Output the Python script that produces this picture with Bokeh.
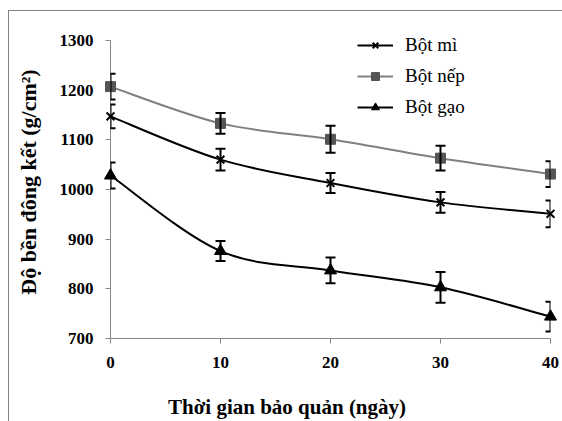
import numpy as np
from bokeh.plotting import figure
from bokeh.models import (ColumnDataSource, Whisker, TeeHead, Legend, LegendItem,
                          Range1d, FixedTicker, Div)
from bokeh.layouts import column
from bokeh.embed import file_html
from bokeh.resources import INLINE

# ---- data ----
days = [0, 10, 20, 30, 40]
bot_mi = [1147, 1060, 1013, 974, 951]
bot_mi_err = [24, 22, 20, 21, 27]
bot_nep = [1207, 1133, 1101, 1063, 1031]
bot_nep_err = [26, 21, 27, 25, 26]
bot_gao = [1028, 876, 837, 803, 744]
bot_gao_err = [26, 20, 26, 31, 30]
series_names = ["Bột mì", "Bột nếp", "Bột gạo"]
y_ticks = [700, 800, 900, 1000, 1100, 1200, 1300]
x_ticks = [0, 10, 20, 30, 40]
x_title = "Thời gian bảo quản (ngày)"
y_title = "Độ bền đông kết (g/cm²)"

FONT = "Liberation Serif"

p = figure(width=553, height=372, output_backend="svg", toolbar_location=None,
           x_range=Range1d(0, 40), y_range=Range1d(700, 1330),
           min_border_left=101, min_border_right=12, min_border_top=14,
           min_border_bottom=45)
p.margin = 0
p.outline_line_color = None
p.grid.visible = False
p.background_fill_color = None
p.border_fill_color = None


def smooth(xs, ys):
    """Catmull-Rom style Bezier segments (Excel-like smoothing)."""
    x = np.asarray(xs, float)
    y = np.asarray(ys, float)
    n = len(x)
    xp = np.concatenate([[x[0]], x, [x[-1]]])
    yp = np.concatenate([[y[0]], y, [y[-1]]])
    d = {"x0": [], "y0": [], "x1": [], "y1": [], "cx0": [], "cy0": [], "cx1": [], "cy1": []}
    for i in range(n - 1):
        j = i + 1
        d["x0"].append(x[i]); d["y0"].append(y[i])
        d["x1"].append(x[i + 1]); d["y1"].append(y[i + 1])
        d["cx0"].append(x[i] + (xp[j + 1] - xp[j - 1]) / 6)
        d["cy0"].append(y[i] + (yp[j + 1] - yp[j - 1]) / 6)
        d["cx1"].append(x[i + 1] - (xp[j + 2] - xp[j]) / 6)
        d["cy1"].append(y[i + 1] - (yp[j + 2] - yp[j]) / 6)
    return ColumnDataSource(d)


styles = [
    (bot_mi, bot_mi_err, "black", "x", "black", 11),
    (bot_nep, bot_nep_err, "#808080", "square", "#555555", 10),
    (bot_gao, bot_gao_err, "black", "triangle", "black", 12),
]

items = []
for name, (vals, errs, lc, mk, mc, ms) in zip(series_names, styles):
    src = ColumnDataSource(dict(x=days, y=vals,
                                lo=[v - e for v, e in zip(vals, errs)],
                                hi=[v + e for v, e in zip(vals, errs)]))
    br = p.bezier(x0="x0", y0="y0", x1="x1", y1="y1", cx0="cx0", cy0="cy0",
                  cx1="cx1", cy1="cy1", source=smooth(days, vals),
                  line_color=lc, line_width=2, level="annotation")
    w = Whisker(base="x", lower="lo", upper="hi", source=src, dimension="height",
                line_color="black", line_width=2, level="annotation",
                upper_head=TeeHead(size=10, line_color="black", line_width=2),
                lower_head=TeeHead(size=10, line_color="black", line_width=2))
    p.add_layout(w)
    sr = p.scatter("x", "y", source=src, marker=mk, size=ms, fill_color=mc,
                   line_color=mc, line_width=2 if mk == "x" else 1, level="annotation")
    items.append(LegendItem(label=name, renderers=[br, sr]))

legend = Legend(items=items, location=(247, 220), padding=0, margin=0,
                border_line_color=None, background_fill_alpha=0,
                glyph_width=36, glyph_height=20, label_height=20, spacing=9,
                label_standoff=12, label_text_font=FONT, label_text_font_size="19px",
                label_text_color="black")
p.add_layout(legend, "center")

for ax in (p.xaxis, p.yaxis):
    ax.axis_line_color = "#868686"
    ax.major_tick_line_color = "#868686"
    ax.major_tick_out = 5
    ax.major_tick_in = 0
    ax.minor_tick_line_color = None
    ax.major_label_text_font = FONT
    ax.major_label_text_font_style = "bold"
    ax.major_label_text_font_size = "17px"
    ax.major_label_text_color = "black"

p.xaxis.ticker = FixedTicker(ticks=x_ticks)
p.yaxis.ticker = FixedTicker(ticks=y_ticks)
p.yaxis.bounds = (700, 1300)
p.xaxis.major_label_standoff = 13
p.yaxis.major_label_standoff = 12

p.yaxis.axis_label = y_title
p.yaxis.axis_label_text_font = FONT
p.yaxis.axis_label_text_font_style = "bold"
p.yaxis.axis_label_text_font_size = "22px"
p.yaxis.axis_label_text_color = "black"
p.yaxis.axis_label_standoff = 16

xdiv = Div(text=x_title, width=553, height=38, margin=0,
           styles={"font-family": FONT, "font-weight": "bold", "font-size": "21px",
                   "color": "black", "line-height": "24px",
                   "padding-left": "159px", "padding-top": "12px",
                   "box-sizing": "border-box"})

frame_box = Div(width=0, height=0, margin=0)  # placeholder-free layout helper not drawn
layout = column(p, xdiv, spacing=0, margin=(10, 0, 0, 8),
                styles={"border-left": "1px solid #808080",
                        "border-top": "1px solid #808080"})
open("out.html", "w").write(file_html(layout, INLINE))
